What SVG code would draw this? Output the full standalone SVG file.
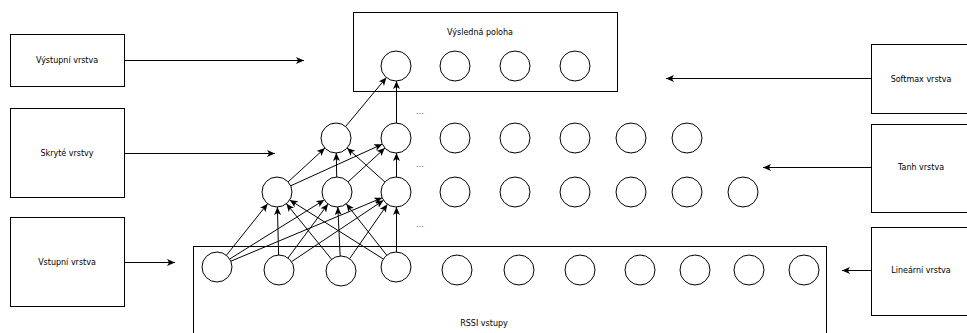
<svg xmlns="http://www.w3.org/2000/svg" width="967" height="333" viewBox="0 0 967 333">
<style>
.box{fill:#fff;stroke:#000;stroke-width:1}
.n{fill:#fff;stroke:#000;stroke-width:1}
.t{font-family:"DejaVu Sans",Verdana,sans-serif;font-size:8px;fill:#000;text-anchor:middle}
.e{stroke:#000;stroke-width:1;fill:none;marker-end:url(#ah)}
.dots{font-family:"DejaVu Sans",sans-serif;font-size:8px;fill:#555;text-anchor:middle}
</style>
<defs>
<marker id="ah" markerUnits="userSpaceOnUse" markerWidth="10" markerHeight="10" refX="8" refY="3.5" orient="auto">
<path d="M0,0 L8,3.5 L0,7 L2,3.5 z" fill="#000"/>
</marker>
</defs>
<rect width="967" height="333" fill="#fff"/>

<g id="rssi-box"><rect class="box" x="193.5" y="246.5" width="633" height="100"/><text class="t" x="484" y="326">RSSI vstupy</text></g>
<g id="output-box"><rect class="box" x="353.5" y="12.5" width="264" height="79"/><text class="t" x="480" y="35">Výsledná poloha</text></g>

<g id="lbl-vystupni"><rect class="box" x="10.5" y="34.5" width="114" height="52"/><text class="t" x="67" y="63">Výstupní vrstva</text></g>
<g id="lbl-skryte"><rect class="box" x="10.5" y="108.5" width="114" height="89"/><text class="t" x="67" y="156">Skryté vrstvy</text></g>
<g id="lbl-vstupni"><rect class="box" x="10.5" y="217.5" width="114" height="89"/><text class="t" x="67" y="265">Vstupní vrstva</text></g>
<g id="lbl-softmax"><rect class="box" x="871.5" y="44.5" width="110" height="69"/><text class="t" x="921" y="82">Softmax vrstva</text></g>
<g id="lbl-tanh"><rect class="box" x="871.5" y="124.5" width="110" height="88"/><text class="t" x="921" y="170">Tanh vrstva</text></g>
<g id="lbl-linear"><rect class="box" x="871.5" y="227.5" width="110" height="88"/><text class="t" x="921" y="273">Lineární vrstva</text></g>

<g id="connectors">
<line class="e" x1="124.5" y1="60.5" x2="304" y2="60.5"/>
<line class="e" x1="124.5" y1="153.5" x2="275" y2="153.5"/>
<line class="e" x1="124.5" y1="262.5" x2="175" y2="262.5"/>
<line class="e" x1="871" y1="78.5" x2="666" y2="78.5"/>
<line class="e" x1="871" y1="167.5" x2="763" y2="167.5"/>
<line class="e" x1="871" y1="270.5" x2="842" y2="270.5"/>

<line class="e" x1="226.4" y1="255.3" x2="267.6" y2="203.7"/>
<line class="e" x1="229.7" y1="259.0" x2="324.3" y2="199.9"/>
<line class="e" x1="230.8" y1="261.2" x2="382.2" y2="197.8"/>
<line class="e" x1="278.6" y1="255.0" x2="277.4" y2="207.0"/>
<line class="e" x1="288.0" y1="258.0" x2="328.0" y2="204.0"/>
<line class="e" x1="291.5" y1="261.7" x2="383.5" y2="200.3"/>
<line class="e" x1="331.6" y1="259.3" x2="286.4" y2="203.7"/>
<line class="e" x1="340.2" y1="256.0" x2="337.8" y2="207.0"/>
<line class="e" x1="349.6" y1="258.7" x2="387.4" y2="204.3"/>
<line class="e" x1="383.3" y1="259.0" x2="289.7" y2="200.0"/>
<line class="e" x1="386.7" y1="255.2" x2="346.3" y2="203.8"/>
<line class="e" x1="396.5" y1="252" x2="396.5" y2="207"/>

<line class="e" x1="288.1" y1="181.9" x2="324.9" y2="148.1"/>
<line class="e" x1="290.7" y1="185.8" x2="382.3" y2="144.2"/>
<line class="e" x1="336.7" y1="177" x2="336.3" y2="153"/>
<line class="e" x1="348.1" y1="181.9" x2="384.9" y2="148.1"/>
<line class="e" x1="384.9" y1="182.0" x2="347.1" y2="148.0"/>
<line class="e" x1="396.5" y1="177" x2="396.5" y2="153"/>

<line class="e" x1="345.6" y1="126.5" x2="386.4" y2="77.5"/>
<line class="e" x1="396.5" y1="123" x2="396.5" y2="81"/>
</g>

<g id="dots">
<text class="dots" x="420" y="114">...</text>
<text class="dots" x="420" y="167">...</text>
<text class="dots" x="420" y="227">...</text>
</g>

<g id="out-1"><circle class="n" cx="396" cy="66" r="15"/></g>
<g id="out-2"><circle class="n" cx="455" cy="66" r="15"/></g>
<g id="out-3"><circle class="n" cx="515" cy="66" r="15"/></g>
<g id="out-4"><circle class="n" cx="575" cy="66" r="15"/></g>

<g id="h2-1"><circle class="n" cx="336" cy="138" r="15"/></g>
<g id="h2-2"><circle class="n" cx="396" cy="138" r="15"/></g>
<g id="h2-3"><circle class="n" cx="455" cy="138" r="15"/></g>
<g id="h2-4"><circle class="n" cx="515" cy="138" r="15"/></g>
<g id="h2-5"><circle class="n" cx="575" cy="138" r="15"/></g>
<g id="h2-6"><circle class="n" cx="631" cy="138" r="15"/></g>
<g id="h2-7"><circle class="n" cx="687" cy="138" r="15"/></g>

<g id="h1-1"><circle class="n" cx="277" cy="192" r="15"/></g>
<g id="h1-2"><circle class="n" cx="337" cy="192" r="15"/></g>
<g id="h1-3"><circle class="n" cx="396" cy="192" r="15"/></g>
<g id="h1-4"><circle class="n" cx="455" cy="192" r="15"/></g>
<g id="h1-5"><circle class="n" cx="515" cy="192" r="15"/></g>
<g id="h1-6"><circle class="n" cx="575" cy="192" r="15"/></g>
<g id="h1-7"><circle class="n" cx="631" cy="192" r="15"/></g>
<g id="h1-8"><circle class="n" cx="687" cy="192" r="15"/></g>
<g id="h1-9"><circle class="n" cx="743" cy="192" r="15"/></g>

<g id="in-1"><circle class="n" cx="217" cy="267" r="15"/></g>
<g id="in-2"><circle class="n" cx="279" cy="270" r="15"/></g>
<g id="in-3"><circle class="n" cx="341" cy="271" r="15"/></g>
<g id="in-4"><circle class="n" cx="396" cy="267" r="15"/></g>
<g id="in-5"><circle class="n" cx="457" cy="270" r="15"/></g>
<g id="in-6"><circle class="n" cx="519" cy="270" r="15"/></g>
<g id="in-7"><circle class="n" cx="580" cy="270" r="15"/></g>
<g id="in-8"><circle class="n" cx="640" cy="270" r="15"/></g>
<g id="in-9"><circle class="n" cx="695" cy="270" r="15"/></g>
<g id="in-10"><circle class="n" cx="749" cy="270" r="15"/></g>
<g id="in-11"><circle class="n" cx="804" cy="270" r="15"/></g>
</svg>
